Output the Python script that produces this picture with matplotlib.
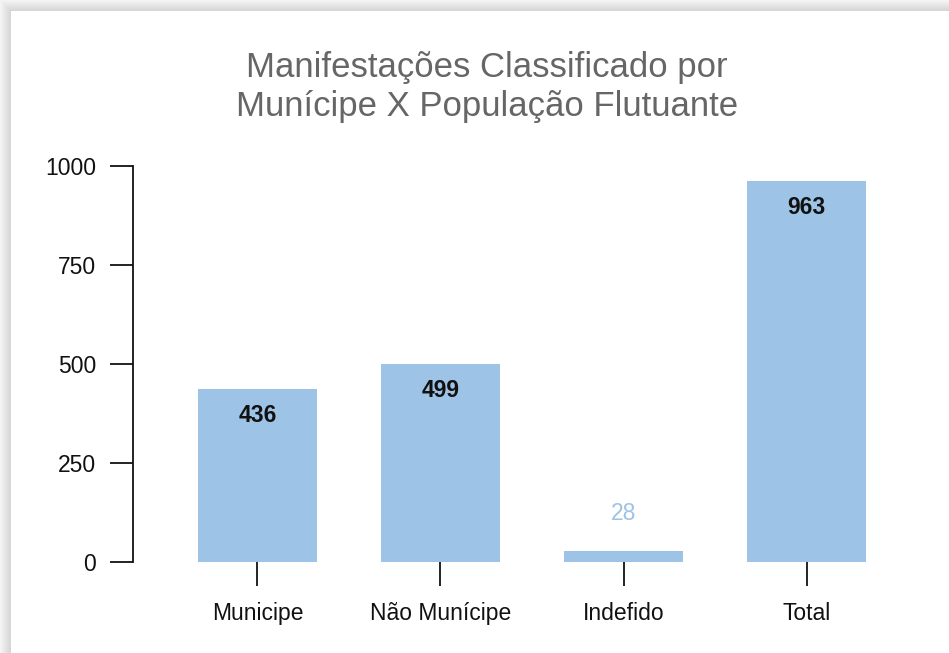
import matplotlib
matplotlib.use("Agg")
import matplotlib.pyplot as plt
from matplotlib.patches import Rectangle

categories = ["Municipe", "Não Munícipe", "Indefido", "Total"]
values = [436, 499, 28, 963]
yticks = [0, 250, 500, 750, 1000]
title = "Manifestações Classificado por\nMunícipe X População Flutuante"

W, H = 949, 653
fig = plt.figure(figsize=(W / 100, H / 100), dpi=100)
fig.patch.set_facecolor("#f4f4f4")

# card shadow + white card
cx, cy = 11, 11  # top-left of card in pixels (from top)
for i in range(10, 0, -1):
    fig.patches.append(Rectangle(((cx - i) / W, 0), (W - cx + i) / W, (H - cy + i) / H,
                                 transform=fig.transFigure, facecolor="#000000",
                                 alpha=0.012, edgecolor="none", zorder=-3))
fig.patches.append(Rectangle((cx / W, 0), (W - cx) / W, (H - cy) / H,
                             transform=fig.transFigure, facecolor="white",
                             edgecolor="none", zorder=-2))

ax = fig.add_axes([133 / W, 91 / H, (931 - 133) / W, 396 / H])
ax.set_facecolor("none")

bar_color = "#9dc3e6"
x = list(range(len(categories)))
bars = ax.bar(x, values, width=0.65, color=bar_color, zorder=2)

ax.set_xlim(-0.68, 3.68)
ax.set_ylim(0, 1000)
ax.set_yticks(yticks)
ax.set_xticks(x)
ax.set_xticklabels(categories, fontsize=16.5, family="Liberation Sans", color="#111111")
ax.set_yticklabels([str(t) for t in yticks], fontsize=16.5, family="Liberation Sans", color="#111111")

for s in ["top", "right", "bottom"]:
    ax.spines[s].set_visible(False)
ax.spines["left"].set_linewidth(1.3)
ax.spines["left"].set_color("#111111")
ax.tick_params(axis="y", length=16.5, width=1.3, color="#111111", pad=10)
ax.tick_params(axis="x", length=17.3, width=1.3, color="#111111", pad=11.5)

for b, v in zip(bars, values):
    cxb = b.get_x() + b.get_width() / 2
    if v > 100:
        ax.annotate(str(v), (cxb, v), xytext=(0, -19), textcoords="offset points",
                    ha="center", va="center", fontsize=16.5, fontweight="bold",
                    family="Liberation Sans", color="#111111", zorder=3)
    else:
        ax.annotate(str(v), (cxb, v), xytext=(0, 27), textcoords="offset points",
                    ha="center", va="center", fontsize=16.5,
                    family="Liberation Sans", color=bar_color, zorder=3)

fig.text(487 / W, 1 - 87 / H, title, ha="center", va="center", fontsize=25,
         family="Liberation Sans", color="#666666", linespacing=1.25)

fig.savefig("out.png", dpi=100, facecolor=fig.get_facecolor())
